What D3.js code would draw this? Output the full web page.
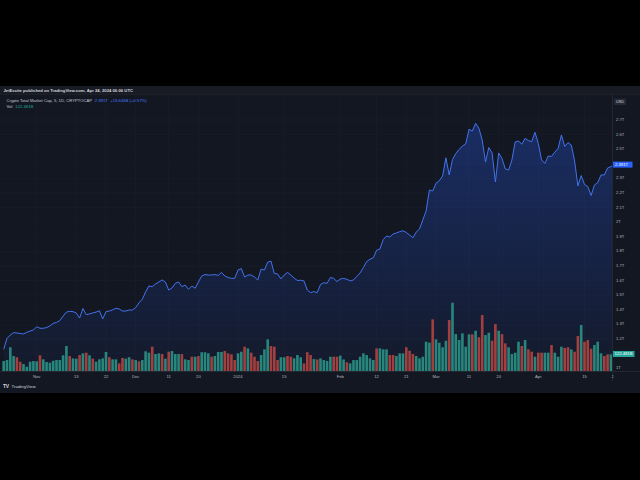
<!DOCTYPE html>
<html>
<head>
<meta charset="utf-8">
<script src="https://cdn.jsdelivr.net/npm/d3@7"></script>
<style>
body { margin: 0; background: #000; }
svg { display: block; font-family: "Liberation Sans", Arial, sans-serif; }
</style>
</head>
<body>
<div id="chart"></div>
<script>
// daily closes in trillions USD, from 22 Oct 2023 to 24 Apr 2024
var firstDay = Date.UTC(2023, 9, 22);
var closes = [
    1.126,1.201,1.224,1.240,1.238,1.234,1.231,1.242,1.251,1.258,
    1.281,1.270,1.270,1.275,1.286,1.304,1.310,1.323,1.353,1.381,
    1.386,1.384,1.375,1.340,1.405,1.364,1.368,1.375,1.381,1.390,
    1.334,1.384,1.388,1.396,1.407,1.402,1.388,1.388,1.395,1.395,
    1.412,1.444,1.469,1.519,1.560,1.555,1.573,1.587,1.601,1.587,
    1.532,1.546,1.578,1.587,1.555,1.566,1.537,1.560,1.544,1.587,
    1.628,1.638,1.635,1.635,1.638,1.632,1.653,1.628,1.618,1.612,
    1.612,1.669,1.679,1.621,1.635,1.635,1.621,1.601,1.675,1.669,
    1.723,1.730,1.645,1.642,1.608,1.635,1.652,1.635,1.614,1.597,
    1.599,1.594,1.532,1.514,1.521,1.514,1.570,1.582,1.578,1.618,
    1.612,1.590,1.608,1.611,1.606,1.594,1.601,1.625,1.649,1.686,
    1.727,1.743,1.753,1.805,1.812,1.877,1.902,1.895,1.916,1.923,
    1.932,1.938,1.926,1.909,1.890,1.929,1.950,2.012,2.073,2.217,
    2.210,2.263,2.281,2.313,2.438,2.320,2.426,2.467,2.495,2.518,
    2.532,2.633,2.621,2.674,2.640,2.560,2.409,2.508,2.471,2.272,
    2.471,2.433,2.361,2.354,2.423,2.546,2.553,2.530,2.571,2.556,
    2.548,2.612,2.536,2.423,2.399,2.450,2.447,2.477,2.501,2.594,
    2.515,2.542,2.525,2.416,2.245,2.316,2.255,2.241,2.179,2.251,
    2.267,2.320,2.320,2.368,2.377,2.391
];

// daily volume in billions USD
var volumes = [
    72,79,171,108,99,67,50,31,67,72,
    70,113,84,65,60,74,79,79,113,180,
    108,91,89,115,127,132,113,89,67,84,
    91,137,99,84,84,55,94,89,99,84,
    79,70,79,142,132,175,122,127,122,89,
    139,144,122,122,122,84,79,103,103,108,
    135,135,127,103,108,137,137,144,127,120,
    79,127,139,175,163,132,103,72,115,156,
    228,180,175,79,99,99,108,103,91,115,
    99,55,135,115,86,83,91,79,72,103,
    103,103,111,83,63,55,79,79,103,127,
    115,91,79,163,163,156,156,115,115,108,127,
    127,171,146,122,108,91,103,211,204,372,
    228,204,171,218,367,492,266,223,271,175,
    264,264,290,243,403,259,276,218,338,290,
    266,199,171,122,132,211,180,223,156,139,
    103,132,132,132,132,187,132,103,175,166,
    171,156,139,252,331,211,223,161,187,211,
    127,108,120,120,122.481
];

// u = up day (teal bar), d = down day (red bar)
var volumeDir =
    "uuuudduuuu" +
    "uduuuuuuuu" +
    "duudududuu" +
    "uuduudduud" +
    "uduuuduudu" +
    "duuuduudud" +
    "uuuduuuddd" +
    "duududdduu" +
    "uddduudduu" +
    "uddduduuuu" +
    "dduuduuuuu" +
    "uuuduuudduu" +
    "uddduuuuud" +
    "uuuuduuuuu" +
    "ududduuddu" +
    "dduuuududd" +
    "udduuduuud" +
    "dudduddduu" +
    "udduu";

var xTickDates = ["2023-11-01","2023-11-13","2023-11-22","2023-12-01","2023-12-11","2023-12-20",
    "2024-01-01","2024-01-15","2024-02-01","2024-02-12","2024-02-21","2024-03-01","2024-03-11",
    "2024-03-20","2024-04-01","2024-04-15","2024-04-24"];
var xTickLabels = ["Nov","13","22","Dec","11","20","2024","15","Feb","12","21","Mar","11","20","Apr","15","24"];

var priceTicks = [1.0,1.1,1.2,1.3,1.4,1.5,1.6,1.7,1.8,1.9,2.0,2.1,2.2,2.3,2.4,2.5,2.6,2.7];

var W = 640, H = 480;
var panelTop = 86, panelBottom = 393;
var plotTop = 95, plotBottom = 371, plotRight = 612;

var days = closes.map(function(d, i) { return new Date(firstDay + i * 86400000); });

var svg = d3.select("#chart")
    .append("svg")
    .attr("width", W)
    .attr("height", H);

svg.append("rect")
    .attr("x", 0).attr("y", 0).attr("width", W).attr("height", H)
    .attr("fill", "#000");

svg.append("rect")
    .attr("x", 0).attr("y", panelTop).attr("width", W).attr("height", panelBottom - panelTop)
    .attr("fill", "#131722");

svg.append("rect")
    .attr("x", 0).attr("y", panelTop).attr("width", W).attr("height", plotTop - panelTop)
    .attr("fill", "#181b24");

var x = d3.scaleUtc()
    .domain([days[0], days[days.length - 1]])
    .range([3.7, 614.2]);

var y = d3.scaleLinear()
    .domain([1.0, 2.7])
    .range([367.7, 119.5]);

var yVol = d3.scaleLinear()
    .domain([0, 500])
    .range([plotBottom, plotBottom - 69.4]);

var parseDay = d3.utcParse("%Y-%m-%d");
var xTicks = xTickDates.map(parseDay);

var lastClose = closes[closes.length - 1];
var lastVol = volumes[volumes.length - 1];

var defs = svg.append("defs");
defs.append("clipPath").attr("id", "plotClip")
    .append("rect")
    .attr("x", 0).attr("y", plotTop).attr("width", plotRight).attr("height", plotBottom - plotTop);
defs.append("clipPath").attr("id", "axisClip")
    .append("rect")
    .attr("x", 0).attr("y", plotBottom).attr("width", plotRight + 1.5).attr("height", 12);

var grad = defs.append("linearGradient")
    .attr("id", "areaGrad")
    .attr("gradientUnits", "userSpaceOnUse")
    .attr("x1", 0).attr("y1", 120).attr("x2", 0).attr("y2", plotBottom);
grad.append("stop").attr("offset", 0).attr("stop-color", "#2962ff").attr("stop-opacity", 0.3);
grad.append("stop").attr("offset", 1).attr("stop-color", "#2962ff").attr("stop-opacity", 0.04);

var plot = svg.append("g").attr("clip-path", "url(#plotClip)");

// grid
plot.selectAll("line.hgrid")
    .data(priceTicks)
    .enter()
    .append("line")
    .attr("class", "hgrid")
    .attr("x1", 0).attr("x2", plotRight)
    .attr("y1", function(d) { return y(d) + 0.5; })
    .attr("y2", function(d) { return y(d) + 0.5; })
    .attr("stroke", "#1b1f2b")
    .attr("stroke-width", 0.6);

plot.selectAll("line.vgrid")
    .data(xTicks)
    .enter()
    .append("line")
    .attr("class", "vgrid")
    .attr("y1", plotTop).attr("y2", plotBottom)
    .attr("x1", function(d) { return x(d); })
    .attr("x2", function(d) { return x(d); })
    .attr("stroke", "#1b1f2b")
    .attr("stroke-width", 0.6);

// area under the line
var area = d3.area()
    .x(function(d, i) { return x(days[i]); })
    .y0(plotBottom)
    .y1(function(d) { return y(d); });

plot.append("path")
    .datum(closes)
    .attr("d", area)
    .attr("fill", "url(#areaGrad)");

// volume
plot.selectAll("rect.vol")
    .data(volumes)
    .enter()
    .append("rect")
    .attr("class", "vol")
    .attr("x", function(d, i) { return x(days[i]) - 1.3; })
    .attr("y", function(d) { return yVol(d); })
    .attr("width", 2.6)
    .attr("height", function(d) { return plotBottom - yVol(d); })
    .attr("fill", function(d, i) { return volumeDir[i] === "d" ? "#a3403f" : "#27877d"; });

// price line
var line = d3.line()
    .x(function(d, i) { return x(days[i]); })
    .y(function(d) { return y(d); });

plot.append("path")
    .datum(closes)
    .attr("d", line)
    .attr("fill", "none")
    .attr("stroke", "#4272ec")
    .attr("stroke-width", 1);

// axis borders
svg.append("line")
    .attr("x1", plotRight + 0.5).attr("x2", plotRight + 0.5)
    .attr("y1", plotTop).attr("y2", panelBottom - 12)
    .attr("stroke", "#2a2e39").attr("stroke-width", 0.7);
svg.append("line")
    .attr("x1", 0).attr("x2", W)
    .attr("y1", plotBottom + 0.5).attr("y2", plotBottom + 0.5)
    .attr("stroke", "#2a2e39").attr("stroke-width", 0.7);
svg.append("line")
    .attr("x1", 0).attr("x2", W)
    .attr("y1", plotTop - 0.5).attr("y2", plotTop - 0.5)
    .attr("stroke", "#23262f").attr("stroke-width", 0.6);

// price axis labels, hidden where the last-value badges sit
var fmtT = function(d) { return (Math.round(d * 10) / 10) + "T"; };
var visibleTicks = priceTicks.filter(function(d) {
    return Math.abs(y(d) - y(lastClose)) > 5 && Math.abs(y(d) - yVol(lastVol)) > 5;
});
svg.selectAll("text.ptick")
    .data(visibleTicks)
    .enter()
    .append("text")
    .attr("class", "ptick")
    .attr("x", 616)
    .attr("y", function(d) { return y(d) + 1.5; })
    .attr("font-size", 4.2)
    .attr("fill", "#b2b5be")
    .text(fmtT);

// time axis labels
svg.append("g")
    .attr("clip-path", "url(#axisClip)")
    .selectAll("text.xtick")
    .data(xTicks)
    .enter()
    .append("text")
    .attr("class", "xtick")
    .attr("x", function(d) { return x(d); })
    .attr("y", 377.5)
    .attr("text-anchor", "middle")
    .attr("font-size", 4.2)
    .attr("fill", "#b2b5be")
    .text(function(d, i) { return xTickLabels[i]; });

// USD badge
svg.append("rect")
    .attr("x", 614).attr("y", 98.5).attr("width", 12).attr("height", 6.5).attr("rx", 1)
    .attr("fill", "#262a35");
svg.append("text")
    .attr("x", 620).attr("y", 103.2).attr("text-anchor", "middle")
    .attr("font-size", 3.8).attr("fill", "#d1d4dc")
    .text("USD");

// last price badge
svg.append("rect")
    .attr("x", 613).attr("y", y(lastClose) - 3).attr("width", 19.5).attr("height", 6)
    .attr("fill", "#2962ff");
svg.append("text")
    .attr("x", 615).attr("y", y(lastClose) + 1.5)
    .attr("font-size", 4.2).attr("fill", "#fff")
    .text(lastClose.toFixed(3) + "T");

// last volume badge
svg.append("rect")
    .attr("x", 613).attr("y", yVol(lastVol) - 3).attr("width", 21.5).attr("height", 6)
    .attr("fill", "#26a69a");
svg.append("text")
    .attr("x", 614.5).attr("y", yVol(lastVol) + 1.5)
    .attr("font-size", 4.2).attr("fill", "#fff")
    .text(lastVol.toFixed(3) + "B");

// header and legend
svg.append("text")
    .attr("x", 3.5).attr("y", 92)
    .attr("font-size", 4.2).attr("font-weight", "bold").attr("fill", "#d1d4dc")
    .text("JetExcite published on TradingView.com, Apr 24, 2024 06:06 UTC");

var legend = svg.append("text")
    .attr("x", 6.5).attr("y", 102)
    .attr("font-size", 4.2).attr("fill", "#c4c7cf");
legend.append("tspan").text("Crypto Total Market Cap, 5, 1D, CRYPTOCAP ");
legend.append("tspan").attr("fill", "#4a7bf7").attr("dx", 1.5).text(lastClose.toFixed(3) + "T");
legend.append("tspan").attr("fill", "#4a7bf7").attr("dx", 2.5).text("+13.645B (+0.57%)");

var volLegend = svg.append("text")
    .attr("x", 6.5).attr("y", 108.2)
    .attr("font-size", 4.2).attr("fill", "#c4c7cf");
volLegend.append("tspan").text("Vol");
volLegend.append("tspan").attr("fill", "#26a69a").attr("dx", 3).text(lastVol.toFixed(3) + "B");

// footer
svg.append("text")
    .attr("x", 3).attr("y", 388)
    .attr("font-size", 5).attr("font-weight", "bold").attr("fill", "#d1d4dc")
    .attr("letter-spacing", -0.4)
    .text("TV");
svg.append("text")
    .attr("x", 11.5).attr("y", 388)
    .attr("font-size", 4.4).attr("fill", "#d1d4dc")
    .text("TradingView");
</script>
</body>
</html>
